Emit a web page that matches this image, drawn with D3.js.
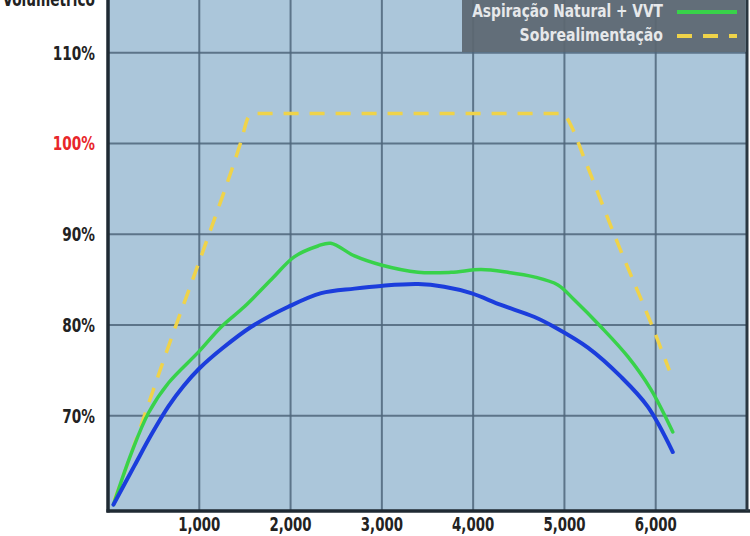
<!DOCTYPE html>
<html>
<head>
<meta charset="utf-8">
<script src="https://cdn.jsdelivr.net/npm/d3@7.9.0/dist/d3.min.js"></script>
<style>
  html, body { margin: 0; padding: 0; background: #fff; }
  svg { display: block; }
  text { font-family: "DejaVu Sans Condensed", "Liberation Sans Narrow", sans-serif; font-weight: bold; }
</style>
</head>
<body>
<svg id="chart" width="750" height="536"></svg>
<script>
// data (rpm, % volumetric efficiency)
const yTicks = [70, 80, 90, 100, 110];
const xTicks = [1000, 2000, 3000, 4000, 5000, 6000];
const xGrid = [1000, 2000, 3000, 4000, 5000, 6000, 7000];

const base = [
  [60, 60.2], [290, 64.5], [480, 68.0], [660, 71.0], [830, 73.3], [1000, 75.2],
  [1250, 77.4], [1570, 79.8], [1975, 82.0], [2336, 83.5], [2700, 84.0], [2992, 84.3],
  [3397, 84.5], [3682, 84.2], [3977, 83.5], [4305, 82.2], [4666, 80.9], [4885, 79.8],
  [5257, 77.5], [5618, 74.3], [5913, 71.0], [6187, 66.0]
];
const vvt = [
  [60, 60.2], [257, 65.9], [443, 70.3], [662, 73.6], [990, 77.0], [1242, 79.8],
  [1493, 82.0], [1789, 85.0], [2040, 87.5], [2300, 88.7], [2440, 89.0],
  [2700, 87.6], [2992, 86.6], [3397, 85.8], [3758, 85.8], [4086, 86.1], [4381, 85.8],
  [4666, 85.3], [4929, 84.4], [5104, 82.8], [5399, 79.8], [5695, 76.5], [5947, 72.9],
  [6187, 68.2]
];
const turbo = [
  [70, 60.7], [150, 62.9], [700, 78.7], [1100, 89.8], [1460, 100.3], [1540, 102.9],
  [1620, 103.3], [3000, 103.3], [4980, 103.3], [5080, 101.8], [5200, 98.8],
  [5600, 88.6], [5980, 79.4], [6150, 75.0]
];

const legendItems = [
  { label: "Aspiração Natural + VVT", color: "#38d24a", dash: null, sx: 0.9 },
  { label: "Sobrealimentação", color: "#efd34a", dash: "15,11", sx: 0.92 }
];

const svg = d3.select("#chart");
const W = 750;

const x = d3.scaleLinear().domain([0, 7000]).range([108, 747]);
const y = d3.scaleLinear().domain([59.5, 115.8]).range([511, 0]);

// condensed text helper
function label(g, tx, ty, str, opts) {
  return g.append("text")
    .attr("transform", `translate(${tx},${ty}) scale(${opts.sx},1)`)
    .attr("text-anchor", opts.anchor || "start")
    .attr("font-size", opts.size)
    .attr("fill", opts.fill)
    .text(str);
}

// background
svg.append("rect")
  .attr("x", x(0)).attr("y", 0)
  .attr("width", x(7000) - x(0)).attr("height", y(59.5))
  .attr("fill", "#abc6da");

svg.append("clipPath").attr("id", "plotclip")
  .append("rect")
  .attr("x", x(0)).attr("y", 0)
  .attr("width", x(7000) - x(0)).attr("height", y(59.5));

// grid
svg.append("g").selectAll("line").data(yTicks).join("line")
  .attr("x1", x(0)).attr("x2", x(7000))
  .attr("y1", d => y(d)).attr("y2", d => y(d))
  .attr("stroke", "#4f667b").attr("stroke-width", 2).attr("opacity", 0.85);

svg.append("g").selectAll("line").data(xGrid).join("line")
  .attr("x1", d => x(d)).attr("x2", d => x(d))
  .attr("y1", 0).attr("y2", y(59.5))
  .attr("stroke", "#4f667b").attr("stroke-width", 2).attr("opacity", 0.85);

// curves
const monoLine = d3.line().x(d => x(d[0])).y(d => y(d[1])).curve(d3.curveMonotoneX);
const smoothLine = d3.line().x(d => x(d[0])).y(d => y(d[1])).curve(d3.curveCatmullRom.alpha(0.5));
const curves = svg.append("g").attr("clip-path", "url(#plotclip)");

curves.append("path").datum(turbo)
  .attr("d", monoLine).attr("fill", "none")
  .attr("stroke", "#efd34a").attr("stroke-width", 3.5)
  .attr("stroke-dasharray", "15,11");

curves.append("path").datum(vvt)
  .attr("d", smoothLine).attr("fill", "none")
  .attr("stroke", "#38d24a").attr("stroke-width", 3.5)
  .attr("stroke-linecap", "round");

curves.append("path").datum(base)
  .attr("d", smoothLine).attr("fill", "none")
  .attr("stroke", "#1b3ddc").attr("stroke-width", 4)
  .attr("stroke-linecap", "round");

// frame / axes
svg.append("line")
  .attr("x1", x(0)).attr("x2", x(0)).attr("y1", 0).attr("y2", y(59.5) + 1.5)
  .attr("stroke", "#1f2a33").attr("stroke-width", 3.5);
svg.append("line")
  .attr("x1", x(0) - 1.5).attr("x2", W).attr("y1", y(59.5)).attr("y2", y(59.5))
  .attr("stroke", "#1f2a33").attr("stroke-width", 3.5);
svg.append("line")
  .attr("x1", x(7000)).attr("x2", x(7000)).attr("y1", 0).attr("y2", y(59.5))
  .attr("stroke", "#2a3640").attr("stroke-width", 3);

// y tick labels
const yl = svg.append("g");
yTicks.forEach(d => {
  label(yl, 95, y(d) + 7, d + "%", { sx: 0.76, size: 20, anchor: "end", fill: d === 100 ? "#e8262a" : "#222" });
});

// x tick labels
const xl = svg.append("g");
xTicks.forEach(d => {
  label(xl, x(d), 531, d3.format(",")(d), { sx: 0.78, size: 19, anchor: "middle", fill: "#222" });
});

// axis title (clipped at top, as in the original)
label(svg, 95, 6, "Volumétrico", { sx: 0.76, size: 20, anchor: "end", fill: "#222" });

// legend
const lg = svg.append("g");
lg.append("rect")
  .attr("x", 462).attr("y", 0).attr("width", x(7000) - 1.5 - 462).attr("height", 52)
  .attr("fill", "#5c6771").attr("opacity", 0.93);

legendItems.forEach((d, i) => {
  const cy = 12 + i * 24;
  label(lg, 663, cy + 5, d.label, { sx: d.sx, size: 17, anchor: "end", fill: "#e6e8ea" });
  lg.append("line")
    .attr("x1", 677).attr("x2", 737)
    .attr("y1", cy).attr("y2", cy)
    .attr("stroke", d.color).attr("stroke-width", 4)
    .attr("stroke-dasharray", d.dash);
});
</script>
</body>
</html>
